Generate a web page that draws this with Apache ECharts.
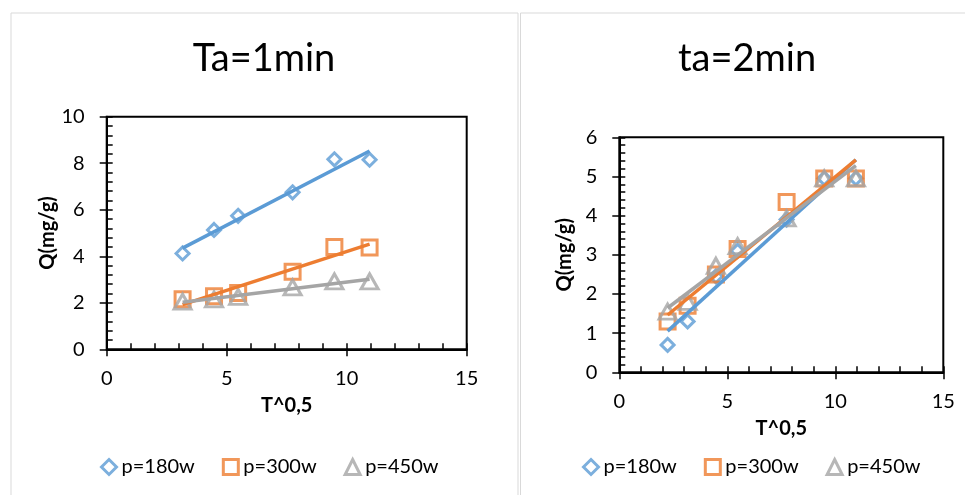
<!DOCTYPE html>
<html><head><meta charset="utf-8">
<script src="https://cdn.jsdelivr.net/npm/echarts@6/dist/echarts.min.js"></script>
<style>html,body{margin:0;padding:0;background:#fff}#c{width:965px;height:495px}</style>
</head><body><div id="c"></div>
<script>
// ---- data ----
const titles = ['Ta=1min', 'ta=2min'];
const seriesNames = ['p=180w', 'p=300w', 'p=450w'];
const xName = 'T^0,5';
const yName = 'Q(mg/g)';
// panel 1 (Ta=1min)
const xA = [3.162, 4.472, 5.477, 7.746, 9.487, 10.954];
const a180 = [4.12, 5.13, 5.74, 6.75, 8.17, 8.15];
const a300 = [2.15, 2.28, 2.42, 3.33, 4.40, 4.38];
const a450 = [2.05, 2.15, 2.25, 2.66, 2.92, 2.92];
// panel 2 (ta=2min)
const xB = [2.236, 3.162, 4.472, 5.477, 7.746, 9.487, 10.954];
const b180 = [0.70, 1.30, 2.45, 3.10, 3.90, 4.95, 4.95];
const b300 = [1.30, 1.70, 2.50, 3.15, 4.35, 4.95, 4.95];
const b450 = [1.55, 1.80, 2.72, 3.22, 3.93, 4.95, 4.95];
// axis ticks
const xRange = [0, 15], xStep = 5, xMinor = 1;
const yRangeA = [0, 10], yStepA = 2, yMinorA = 0.4;
const yRangeB = [0, 6], yStepB = 1, yMinorB = 0.2;

// ---- styles ----
const colors = ['#5B9BD5', '#ED7D31', '#A5A5A5'];
const symbols = ['diamond', 'rect', 'triangle'];
const symSizes = [[13, 13], [15, 15], [17, 15]];
const FONT = 'Lato';

function fit(xs, ys) {
  const n = xs.length;
  const mx = xs.reduce((a, b) => a + b, 0) / n;
  const my = ys.reduce((a, b) => a + b, 0) / n;
  let sxy = 0, sxx = 0;
  for (let i = 0; i < n; i++) { sxy += (xs[i] - mx) * (ys[i] - my); sxx += (xs[i] - mx) ** 2; }
  const k = sxy / sxx, b = my - k * mx;
  const x0 = Math.min(...xs), x1 = Math.max(...xs);
  return [[x0, k * x0 + b], [x1, k * x1 + b]];
}

const grids = [
  { left: 106.7, top: 116.7, width: 360, height: 232.6 },
  { left: 619.3, top: 137.3, width: 324, height: 235 }
];
const panels = [
  { xs: xA, ys: [a180, a300, a450], yr: yRangeA, ys1: yStepA, ym: yMinorA, nameGapY: 48 },
  { xs: xB, ys: [b180, b300, b450], yr: yRangeB, ys1: yStepB, ym: yMinorB, nameGapY: 45 }
];

const xAxis = [], yAxis = [], series = [];
const lbl = { fontFamily: FONT, fontSize: 20, color: '#000' };
panels.forEach((p, gi) => {
  xAxis.push({
    gridIndex: gi, type: 'value', min: xRange[0], max: xRange[1], interval: xStep, position: 'bottom',
    axisLine: { show: true, onZero: false, lineStyle: { color: '#000', width: 2 } },
    axisTick: { show: true, length: 7, lineStyle: { color: '#000', width: 1.5 } },
    axisLabel: Object.assign({ margin: 19 }, lbl),
    splitLine: { show: false },
    name: xName, nameLocation: 'middle', nameGap: 46,
    nameTextStyle: { fontFamily: FONT, fontSize: 20, fontWeight: 'bold', color: '#000' }
  });
  xAxis.push({
    gridIndex: gi, type: 'value', min: xRange[0], max: xRange[1], interval: xMinor, position: 'bottom',
    axisLine: { show: false }, axisLabel: { show: false }, splitLine: { show: false },
    axisTick: { show: true, inside: true, length: 6, lineStyle: { color: '#000', width: 1.5 } }
  });
  yAxis.push({
    gridIndex: gi, type: 'value', min: p.yr[0], max: p.yr[1], interval: p.ys1, position: 'left',
    axisLine: { show: true, onZero: false, lineStyle: { color: '#000', width: 2 } },
    axisTick: { show: true, length: 7, lineStyle: { color: '#000', width: 1.5 } },
    axisLabel: Object.assign({ margin: 22 }, lbl),
    splitLine: { show: false },
    name: yName, nameLocation: 'middle', nameGap: p.nameGapY,
    nameTextStyle: { fontFamily: FONT, fontSize: 20, fontWeight: 'bold', color: '#000' }
  });
  yAxis.push({
    gridIndex: gi, type: 'value', min: p.yr[0], max: p.yr[1], interval: p.ym, position: 'left',
    axisLine: { show: false }, axisLabel: { show: false }, splitLine: { show: false },
    axisTick: { show: true, inside: true, length: 6, lineStyle: { color: '#000', width: 1.5 } }
  });
  p.ys.forEach((ys, si) => {
    series.push({
      type: 'scatter', name: seriesNames[si], xAxisIndex: gi * 2, yAxisIndex: gi * 2,
      symbol: symbols[si], symbolSize: symSizes[si],
      itemStyle: { color: 'rgba(255,255,255,0)', borderColor: colors[si], borderWidth: 3 },
      data: p.xs.map((x, i) => [x, ys[i]]), z: 3 + si
    });
  });
  p.ys.forEach((ys, si) => {
    series.push({
      type: 'line', name: 'trend ' + seriesNames[si], xAxisIndex: gi * 2, yAxisIndex: gi * 2,
      symbol: 'none', silent: true,
      lineStyle: { color: colors[si], width: 3.5 },
      data: fit(p.xs, ys), z: 6 + si
    });
  });
});

const legendBase = { data: seriesNames, top: 457, padding: 0, itemGap: 27, itemWidth: 15, itemHeight: 15,
  itemStyle: { borderWidth: 3 },
  textStyle: { fontFamily: FONT, fontSize: 20, color: '#000' } };

const option = {
  backgroundColor: '#fff',
  animation: false,
  title: [
    { text: titles[0], left: 264, top: 40, textAlign: 'center', padding: 0,
      textStyle: { fontFamily: FONT, fontSize: 38, fontWeight: 'normal', color: '#000' } },
    { text: titles[1], left: 747, top: 40, textAlign: 'center', padding: 0,
      textStyle: { fontFamily: FONT, fontSize: 38, fontWeight: 'normal', color: '#000' } }
  ],
  legend: [
    Object.assign({ left: 100 }, legendBase),
    Object.assign({ left: 582 }, legendBase)
  ],
  grid: grids.map(g => Object.assign({ show: true, borderColor: '#000', borderWidth: 2,
    backgroundColor: 'transparent', containLabel: false, outerBoundsMode: 'none' }, g)),
  xAxis, yAxis, series,
  graphic: [
    { type: 'rect', shape: { x: 11, y: 13, width: 507, height: 495 }, style: { fill: 'none', stroke: '#D9D9D9', lineWidth: 1 }, z: -10, silent: true },
    { type: 'rect', shape: { x: 520.5, y: 13, width: 470, height: 495 }, style: { fill: 'none', stroke: '#D9D9D9', lineWidth: 1 }, z: -10, silent: true }
  ]
};
const chart = echarts.init(document.getElementById('c'), null, { renderer: 'canvas' });
chart.setOption(option);
</script>
</body></html>
